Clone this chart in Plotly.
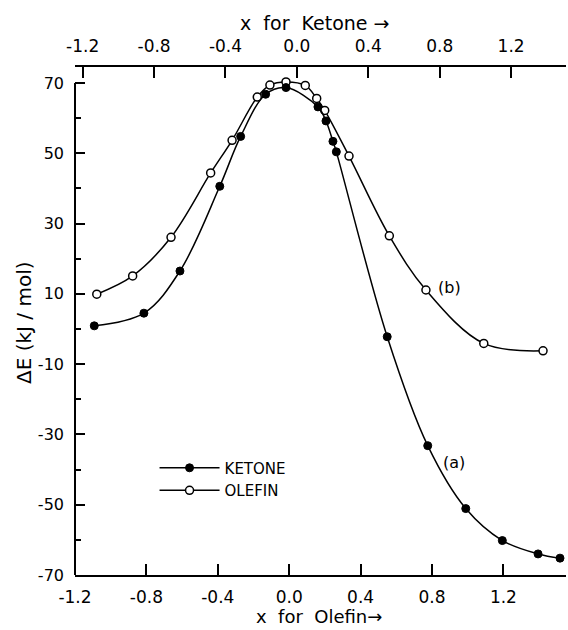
import plotly.graph_objects as go

# Olefin (open circles), plotted against the bottom axis
olefin_x = [-1.078, -0.877, -0.662, -0.440, -0.320, -0.179, -0.108, -0.018, 0.090,
            0.154, 0.199, 0.335, 0.561, 0.766, 1.090, 1.422]
olefin_e = [9.9, 15.1, 26.1, 44.4, 53.7, 66.0, 69.4, 70.3, 69.3,
            65.6, 62.2, 49.2, 26.5, 11.1, -4.1, -6.2]

# Ketone (filled circles), plotted against the top axis
ketone_x = [-1.135, -0.857, -0.655, -0.432, -0.315, -0.175, -0.061, 0.118, 0.163,
            0.202, 0.221, 0.506, 0.733, 0.946, 1.151, 1.351, 1.474]
ketone_e = [0.9, 4.5, 16.5, 40.6, 54.8, 66.8, 68.7, 63.2, 59.2,
            53.4, 50.4, -2.2, -33.2, -51.1, -60.2, -64.0, -65.2]

x_tickvals = [-1.2, -0.8, -0.4, 0.0, 0.4, 0.8, 1.2]
x_ticktext = ["-1.2", "-0.8", "-0.4", "0.0", "0.4", "0.8", "1.2"]
y_tickvals = [70, 50, 30, 10, -10, -30, -50, -70]
y_ticktext = ["70", "50", "30", "10", "-10", "-30", "-50", "-70"]
y_minorvals = [60, 40, 20, 0, -20, -40, -60]

FONT = "DejaVu Sans"
BLACK = "black"

fig = go.Figure()

fig.add_trace(go.Scatter(
    x=ketone_x, y=ketone_e, xaxis="x2", yaxis="y", name="KETONE",
    mode="lines+markers", line=dict(color=BLACK, width=1.5, shape="spline", smoothing=1.0),
    marker=dict(symbol="circle", size=8, color=BLACK, line=dict(color=BLACK, width=1)),
))
fig.add_trace(go.Scatter(
    x=olefin_x, y=olefin_e, xaxis="x", yaxis="y", name="OLEFIN",
    mode="lines+markers", line=dict(color=BLACK, width=1.5, shape="spline", smoothing=1.0),
    marker=dict(symbol="circle", size=8, color="white", line=dict(color=BLACK, width=1.5)),
))

tickfont = dict(family=FONT, size=17, color=BLACK)

fig.update_layout(
    width=568, height=630,
    margin=dict(l=75, r=2, t=67, b=55),
    paper_bgcolor="white", plot_bgcolor="white",
    showlegend=True,
    legend=dict(x=0.162, y=0.243, xanchor="left", yanchor="top",
                font=dict(family=FONT, size=15, color=BLACK),
                bgcolor="rgba(0,0,0,0)", itemwidth=60, tracegroupgap=0),
    xaxis=dict(range=[-1.2, 1.5507], tickvals=x_tickvals, ticktext=x_ticktext,
               ticks="inside", ticklen=11, tickwidth=1.5, tickcolor=BLACK,
               showline=True, linewidth=2, linecolor=BLACK,
               showgrid=False, zeroline=False, tickfont=tickfont,
               ticklabelstandoff=6, automargin=False),
    xaxis2=dict(range=[-1.243, 1.5076], overlaying="x", side="top", anchor="y",
                tickvals=x_tickvals, ticktext=x_ticktext,
                ticks="inside", ticklen=11, tickwidth=1.5, tickcolor=BLACK,
                showline=True, linewidth=2, linecolor=BLACK,
                showgrid=False, zeroline=False, tickfont=tickfont,
                ticklabelstandoff=6, automargin=False),
    yaxis=dict(range=[-70, 74.55], tickvals=y_tickvals, ticktext=y_ticktext,
               ticks="inside", ticklen=10, tickwidth=1.5, tickcolor=BLACK,
               minor=dict(tickvals=y_minorvals, ticks="inside", ticklen=6,
                          tickwidth=1.5, tickcolor=BLACK),
               showline=False, showgrid=False, zeroline=False,
               tickfont=dict(family=FONT, size=16, color=BLACK),
               ticklabelstandoff=10, automargin=False),
    shapes=[dict(type="line", xref="paper", yref="y", x0=0, x1=0,
                 y0=min(y_tickvals), y1=max(y_tickvals),
                 line=dict(color=BLACK, width=2))],
    annotations=[
        dict(text="x  for  Ketone →", xref="paper", yref="paper", x=0.488, y=1.087,
             xanchor="center", yanchor="middle",
             showarrow=False, font=dict(family=FONT, size=19, color=BLACK)),
        dict(text="x  for  Olefin→", xref="paper", yref="paper", x=0.496, y=-0.082,
             xanchor="center", yanchor="middle",
             showarrow=False, font=dict(family=FONT, size=18, color=BLACK)),
        dict(text="ΔE (kJ / mol)", xref="paper", yref="paper", x=-0.104, y=0.498,
             xanchor="center", yanchor="middle",
             textangle=-90, showarrow=False, font=dict(family=FONT, size=20, color=BLACK)),
        dict(text="(b)", xref="x", yref="y", x=0.90, y=11.8, showarrow=False,
             font=dict(family=FONT, size=16, color=BLACK)),
        dict(text="(a)", xref="x", yref="y", x=0.923, y=-37.9, showarrow=False,
             font=dict(family=FONT, size=16, color=BLACK)),
    ],
)

fig.write_html("out.html")
